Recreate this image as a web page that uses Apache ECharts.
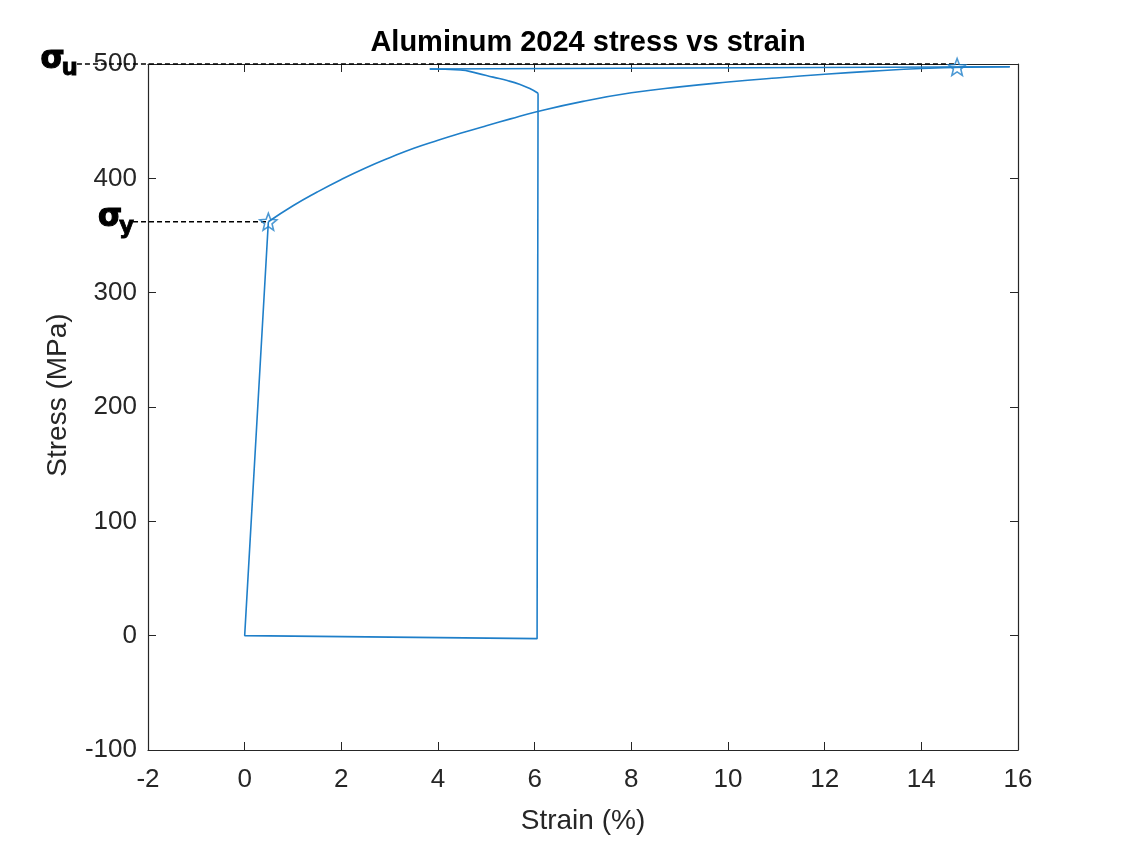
<!DOCTYPE html>
<html>
<head>
<meta charset="utf-8">
<script src="https://cdn.jsdelivr.net/npm/echarts@6/dist/echarts.min.js"></script>
<style>html,body{margin:0;padding:0;background:#fff;}#c{width:1126px;height:846px;}</style>
</head>
<body>
<div id="c"></div>
<script>
// ---- data ----
// elastic loading + unloading legs (straight)
const legStrain = [6.07, 6.05, 0, 0.49];
const legStress = [474.4, -2.6, 0, 362];
// plastic loading curve
const plasticStrain = [0.49, 1.0, 1.5, 2.0, 2.5, 3.0, 3.5, 4.0, 4.5, 5.0, 5.5, 6.0, 7.0, 8.0, 9.0, 10.0, 11.0, 12.0, 13.0, 14.0, 15.0, 15.83];
const plasticStress = [362, 376, 388, 399, 409, 418, 426.3, 433.3, 439.8, 446, 452, 457.8, 467.3, 474.8, 480, 484.2, 487.8, 491, 493.8, 496.1, 497.3, 497.6];
// straight return along the top
const topStrain = [15.83, 3.83];
const topStress = [497.6, 495.6];
// curved return down to the vertical leg
const returnStrain = [3.83, 4.46, 4.8, 5.14, 5.45, 5.70, 5.9, 6.07];
const returnStress = [495.6, 494.8, 492, 488.5, 485.3, 482, 478.5, 474.4];
// marked points
const yieldPoint = [0.49, 362];
const ultimatePoint = [14.74, 497.4];
// reference dashed lines: [strain start, strain end, stress]
const refLines = [[-3.47, 14.74, 500], [-2.31, 0.49, 362]];
const refSubs = ['u', 'y'];
const xTicks = [-2, 0, 2, 4, 6, 8, 10, 12, 14, 16];
const yTicks = [-100, 0, 100, 200, 300, 400, 500];

const blue = '#1F7FC9';
const ink = '#262626';
const font = '"Liberation Sans", Arial, Helvetica, sans-serif';
const symFont = '"DejaVu Sans", sans-serif';
const star = 'path://M12,1 L14.9,8.6 L23,9.2 L16.8,14.3 L18.8,22.3 L12,17.8 L5.2,22.3 L7.2,14.3 L1,9.2 L9.1,8.6 Z';
const mctx = document.createElement('canvas').getContext('2d');
mctx.font = 'bold 23px "DejaVu Sans"';

function pairs(xs, ys) { return xs.map((x, i) => [x, ys[i]]); }
function pathSeries(xs, ys, smooth) {
  return {type: 'line', data: pairs(xs, ys), symbol: 'none', smooth: smooth, z: 3,
    lineStyle: {color: blue, width: 1.6}};
}

const chart = echarts.init(document.getElementById('c'));
const axisCommon = {
  axisLine: {show: true, onZero: false, lineStyle: {color: ink, width: 1.2}},
  axisTick: {show: true, inside: true, length: 8, lineStyle: {color: ink, width: 1}},
  splitLine: {show: false}
};
chart.setOption({
  animation: false,
  backgroundColor: '#fff',
  title: {
    text: 'Aluminum 2024 stress vs strain', left: 583, top: 23, textAlign: 'center',
    textStyle: {fontFamily: font, fontSize: 29, fontWeight: 'bold', color: '#000'}
  },
  grid: {left: 148, right: 108, top: 64, bottom: 96, containLabel: false},
  xAxis: [
    Object.assign({
      type: 'value', min: -2, max: 16, interval: 2, position: 'bottom',
      name: 'Strain (%)', nameLocation: 'middle', nameGap: 57,
      nameTextStyle: {fontFamily: font, fontSize: 28, color: ink},
      axisLabel: {fontFamily: font, fontSize: 26, color: ink, margin: 17,
        formatter: v => xTicks.includes(v) ? String(v) : ''}
    }, axisCommon),
    Object.assign({
      type: 'value', min: -2, max: 16, interval: 2, position: 'top',
      axisLabel: {show: false}
    }, axisCommon)
  ],
  yAxis: [
    Object.assign({
      type: 'value', min: -100, max: 500, interval: 100, position: 'left',
      name: 'Stress (MPa)', nameLocation: 'middle', nameGap: 76,
      nameTextStyle: {fontFamily: font, fontSize: 28, color: ink, padding: [0, 0, 0, 24]},
      axisLabel: {fontFamily: font, fontSize: 26, color: ink, margin: 11,
        formatter: v => yTicks.includes(v) ? String(v) : ''}
    }, axisCommon),
    Object.assign({
      type: 'value', min: -100, max: 500, interval: 100, position: 'right',
      axisLabel: {show: false}
    }, axisCommon)
  ],
  series: [
    {
      type: 'custom', data: refLines, encode: {x: [0, 1], y: 2}, clip: false, z: 5, silent: true,
      renderItem: function (params, api) {
        const y = api.value(2);
        const p0 = api.coord([api.value(0), y]);
        const p1 = api.coord([api.value(1), y]);
        const sub = refSubs[params.dataIndex];
        const subW = mctx.measureText(sub).width;
        const subX = p0[0] + 1;
        return {type: 'group', children: [
          {type: 'line', shape: {x1: p0[0], y1: p0[1], x2: p1[0], y2: p1[1]},
            style: {stroke: '#000', lineWidth: 1.5, lineDash: [5, 3]}},
          {type: 'text', x: subX - subW + 3, y: p0[1] - 4,
            style: {text: 'σ', fontFamily: symFont, fontSize: 31, fontWeight: 'bold', fill: '#000',
              stroke: '#000', lineWidth: 1.2, align: 'right', verticalAlign: 'middle'}},
          {type: 'text', x: subX, y: p0[1] + 5,
            style: {text: sub, fontFamily: symFont, fontSize: 23, fontWeight: 'bold', fill: '#000',
              stroke: '#000', lineWidth: 0.8, align: 'right', verticalAlign: 'middle'}}
        ]};
      }
    },
    pathSeries(legStrain, legStress, false),
    pathSeries(plasticStrain, plasticStress, 0.5),
    pathSeries(topStrain, topStress, false),
    pathSeries(returnStrain, returnStress, 0.5),
    {
      type: 'scatter', data: [yieldPoint, ultimatePoint], symbol: star, symbolSize: 17, z: 6,
      itemStyle: {color: 'rgba(255,255,255,0)', borderColor: blue, borderWidth: 1.6}
    }
  ]
});
</script>
</body>
</html>
